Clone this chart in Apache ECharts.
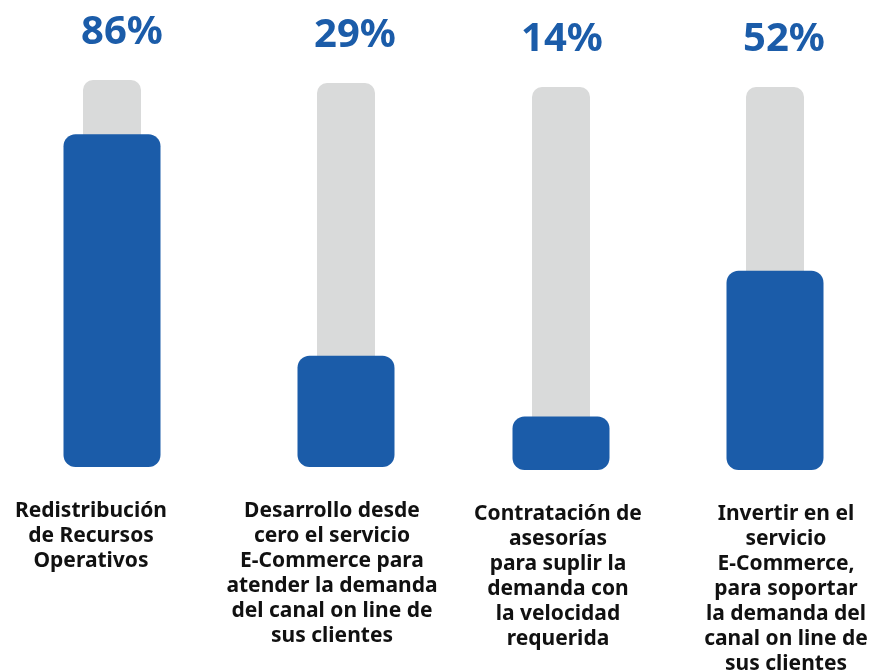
<!DOCTYPE html>
<html>
<head>
<meta charset="utf-8">
<script src="https://cdn.jsdelivr.net/npm/echarts@6/dist/echarts.min.js"></script>
<style>
    html, body {margin: 0; padding: 0; background: #fff;}
    #main {width: 871px; height: 670px;}
</style>
</head>
<body>
<div id="main"></div>
<script>
    // datos
    var categories = [
        'Redistribución\nde Recursos\nOperativos',
        'Desarrollo desde\ncero el servicio\nE-Commerce para\natender la demanda\ndel canal on line de\nsus clientes',
        'Contratación de\nasesorías\npara suplir la\ndemanda con\nla velocidad\nrequerida',
        'Invertir en el\nservicio\nE-Commerce,\npara soportar\nla demanda del\ncanal on line de\nsus clientes'
    ];
    var values = [86, 29, 14, 52];
    var fullValues = [100, 100, 100, 100];

    // layout de cada columna (centro, arriba, abajo, desplazamiento de textos)
    var centers = [112, 346, 561, 775];
    var tops = [80, 83, 87, 87];
    var bottoms = [203, 203, 200, 200];
    var labelShift = [-21, -14, -3, 11];
    var pctShift = [10, 9, 1, 9];

    var BLUE = '#1b5ca9',
        GRAY = '#d9dada',
        FONT = '"Noto Sans", sans-serif';

    var myChart = echarts.init(document.getElementById('main'));

    var grid = [], xAxis = [], yAxis = [], series = [];

    categories.forEach(function (cat, i) {
        grid.push({
            left: centers[i] - 65, width: 130, top: tops[i], bottom: bottoms[i],
            containLabel: false, outerBoundsMode: 'none'
        });

        var ls = labelShift[i];
        xAxis.push({
            type: 'category', gridIndex: i, data: [cat],
            axisLine: {show: false}, axisTick: {show: false},
            axisLabel: {
                interval: 0, margin: 32, color: '#111', fontFamily: FONT,
                fontWeight: 'bold', fontSize: 21, lineHeight: 25, align: 'center',
                padding: ls < 0 ? [0, -2 * ls, 0, 0] : [0, 0, 0, 2 * ls]
            }
        });
        xAxis.push({
            type: 'category', gridIndex: i, data: [cat], show: false
        });
        yAxis.push({type: 'value', gridIndex: i, min: 0, max: 100, show: false});

        var ps = pctShift[i];
        series.push({
            type: 'bar', xAxisIndex: i * 2 + 1, yAxisIndex: i,
            data: [fullValues[i]], barWidth: 58, z: 1,
            itemStyle: {color: GRAY, borderRadius: [10, 10, 0, 0]},
            label: {
                show: true, position: 'top', distance: 27,
                color: BLUE, fontFamily: FONT, fontWeight: 'bold', fontSize: 40,
                padding: [0, 0, 0, 2 * ps],
                formatter: function () { return values[i] + '%'; }
            },
            silent: true
        });
        series.push({
            type: 'bar', xAxisIndex: i * 2, yAxisIndex: i,
            data: [values[i]], barWidth: 97, z: 2,
            itemStyle: {color: BLUE, borderRadius: 12}
        });
    });

    myChart.setOption({
        animation: false,
        grid: grid,
        xAxis: xAxis,
        yAxis: yAxis,
        series: series
    });
</script>
</body>
</html>
